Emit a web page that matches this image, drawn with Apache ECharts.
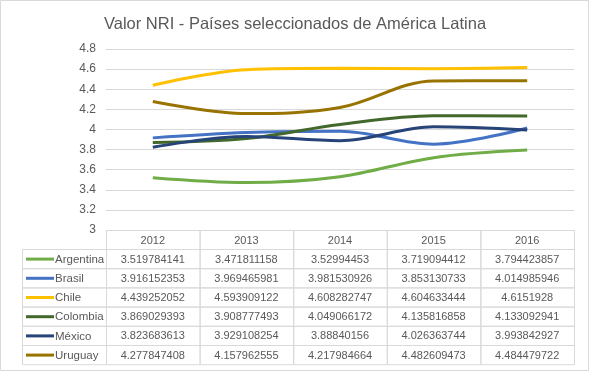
<!DOCTYPE html>
<html><head><meta charset="utf-8">
<script src="https://cdn.jsdelivr.net/npm/echarts@6/dist/echarts.min.js"></script>
<style>html,body{margin:0;padding:0;background:#fff}#c{width:590px;height:372px}</style>
</head><body><div id="c"></div>
<script>
var years = ['2012','2013','2014','2015','2016'];
var names = ['Argentina','Brasil','Chile','Colombia','México','Uruguay'];
var argentina = [3.519784141, 3.471811158, 3.52994453, 3.719094412, 3.794423857];
var brasil = [3.916152353, 3.969465981, 3.981530926, 3.853130733, 4.014985946];
var chile = [4.439252052, 4.593909122, 4.608282747, 4.604633444, 4.6151928];
var colombia = [3.869029393, 3.908777493, 4.049066172, 4.135816858, 4.133092941];
var mexico = [3.823683613, 3.929108254, 3.88840156, 4.026363744, 3.993842927];
var uruguay = [4.277847408, 4.157962555, 4.217984664, 4.482609473, 4.484479722];
var colors = ['#70AD47','#4472C4','#FFC000','#43682B','#264478','#997300'];
var yTicks = { min: 3, max: 4.8, interval: 0.2 };

var seriesData = [argentina, brasil, chile, colombia, mexico, uruguay];
var FONT = 'Liberation Sans, Arial, sans-serif';
var TXT = '#595959';
var LINE = '#d9d9d9';

var gL = 106, gR = 574, gT = 49, gB = 230;
var colW = (gR - gL) / years.length;
var tblLeft = 22, headH = 19, rowH = 19.2;

var graphics = [];
graphics.push({type:'rect', shape:{x:0.5,y:0.5,width:588,height:370}, style:{fill:null, stroke:LINE, lineWidth:1}, silent:true});
years.forEach(function(y, i){
  var x = gL + i*colW;
  graphics.push({type:'rect', shape:{x:x+0.5, y:gB+0.5, width:colW, height:headH}, style:{fill:null, stroke:LINE, lineWidth:1}, silent:true});
  graphics.push({type:'text', x:x+colW/2, y:gB+headH/2+1, style:{text:y, fill:TXT, font:'11px '+FONT, align:'center', verticalAlign:'middle'}, silent:true});
});
names.forEach(function(n, r){
  var y0 = gB + headH + r*rowH;
  graphics.push({type:'rect', shape:{x:tblLeft+0.5, y:y0+0.5, width:gL-tblLeft, height:rowH}, style:{fill:null, stroke:LINE, lineWidth:1}, silent:true});
  graphics.push({type:'line', shape:{x1:tblLeft+4, y1:y0+rowH/2+0.5, x2:tblLeft+32, y2:y0+rowH/2+0.5}, style:{stroke:colors[r], lineWidth:3}, silent:true});
  graphics.push({type:'text', x:tblLeft+33, y:y0+rowH/2+1, style:{text:n, fill:TXT, font:'11.5px '+FONT, align:'left', verticalAlign:'middle'}, silent:true});
  seriesData[r].forEach(function(v, i){
    var x = gL + i*colW;
    graphics.push({type:'rect', shape:{x:x+0.5, y:y0+0.5, width:colW, height:rowH}, style:{fill:null, stroke:LINE, lineWidth:1}, silent:true});
    graphics.push({type:'text', x:x+colW/2, y:y0+rowH/2+1, style:{text:String(v), fill:TXT, font:'11px '+FONT, align:'center', verticalAlign:'middle'}, silent:true});
  });
});

var chart = echarts.init(document.getElementById('c'), null, {renderer:'canvas'});
chart.setOption({
  animation:false,
  backgroundColor:'#fff',
  title:{text:'Valor NRI - Países seleccionados de América Latina', left:'center', top:11,
    textStyle:{fontFamily:FONT, fontSize:16.5, fontWeight:'normal', color:TXT}},
  grid:{left:gL, right:590-gR, top:gT, bottom:372-gB, containLabel:false},
  xAxis:{type:'category', data:years, boundaryGap:true,
    axisLine:{show:false}, axisTick:{show:false}, axisLabel:{show:false}, splitLine:{show:false}},
  yAxis:{type:'value', min:yTicks.min, max:yTicks.max, interval:yTicks.interval,
    axisLine:{show:false}, axisTick:{show:false},
    axisLabel:{color:TXT, fontFamily:FONT, fontSize:12, margin:10},
    splitLine:{lineStyle:{color:LINE, width:1}}},
  series: names.map(function(n, i){
    return {name:n, type:'line', data:seriesData[i], smooth:0.35, symbol:'none',
      lineStyle:{color:colors[i], width:3}, itemStyle:{color:colors[i]}};
  }),
  graphic: graphics
});
</script></body></html>
